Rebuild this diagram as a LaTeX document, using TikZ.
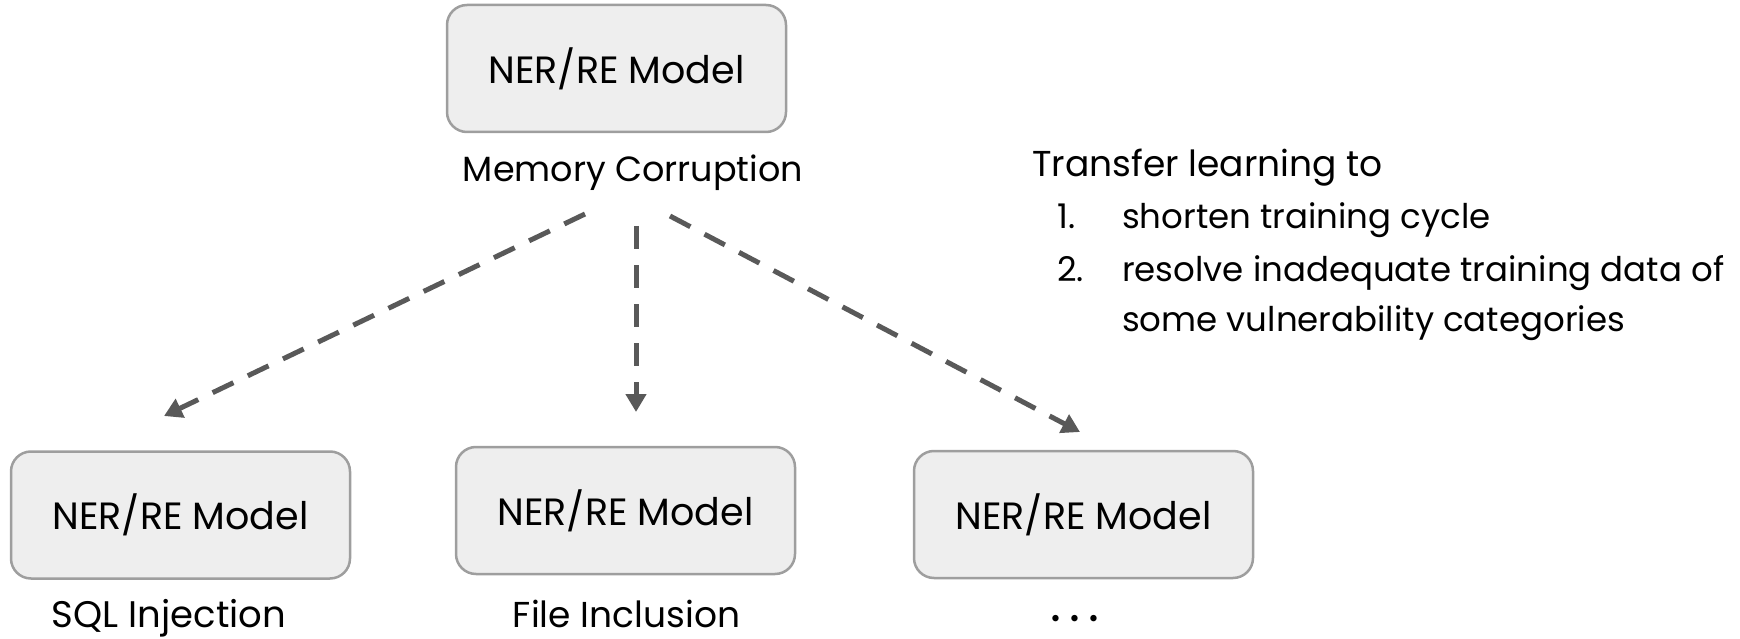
\documentclass[tikz,border=0pt]{standalone}
\usepackage{fontspec}
\setmainfont{Poppins}
\usetikzlibrary{arrows.meta}
\definecolor{boxfill}{HTML}{EEEEEE}
\definecolor{boxline}{HTML}{9E9E9E}
\definecolor{arrowgray}{HTML}{595959}
\tikzset{
  model/.style={draw=boxline, line width=2.5pt, fill=boxfill, rounded corners=20pt,
    minimum width=339pt, minimum height=127pt, inner sep=0pt,
    font=\fontsize{38}{46}\selectfont},
  caption/.style={anchor=base, inner sep=0pt, font=\fontsize{36}{44}\selectfont},
  note/.style={anchor=base west, inner sep=0pt, font=\fontsize{34}{42}\selectfont},
  transfer/.style={draw=arrowgray, line width=5pt, dash pattern=on 23pt off 16pt,
    -{Triangle[length=18pt,width=20pt]}},
}
\begin{document}
\begin{tikzpicture}[x=1pt,y=-1pt]
\useasboundingbox (0,0) rectangle (1740,639);

% source model and its category
\node[model] (src) at (616.5,68.5) {NER/RE Model};
\node[caption, font=\fontsize{35}{42}\selectfont] (srccat) at (633,182) {Memory Corruption};

% target models
\node[model] (sql) at (180.5,515) {NER/RE Model};
\node[model] (file) at (625.5,510.5) {NER/RE Model};
\node[model] (more) at (1083.5,514.5) {NER/RE Model};
\node[caption, font=\fontsize{37}{44}\selectfont] (sqlcat) at (169,627) {SQL Injection};
\node[caption] (filecat) at (626.5,627) {File Inclusion};
\node[caption, font=\fontsize{52}{60}\selectfont] (morecat) at (1075,621) {.\hspace{8pt}.\hspace{8pt}.};

% transfer arrows
\coordinate (a1) at (585,214);
\coordinate (b1) at (164,416);
\coordinate (a2) at (636,226);
\coordinate (b2) at (636,412);
\coordinate (a3) at (670,216);
\coordinate (b3) at (1080,432);
\draw[transfer] (a1) -- (b1);
\draw[transfer] (a2) -- (b2);
\draw[transfer] (a3) -- (b3);

% note on transfer learning
\node[note, font=\fontsize{36}{42}\selectfont] (n0) at (1032,177) {Transfer learning to};
\node[note] (n1) at (1057,229) {1.};
\node[note] (t1) at (1122,229) {shorten training cycle};
\node[note] (n2) at (1057,281) {2.};
\node[note] (t2) at (1122,281) {resolve inadequate training data of};
\node[note] (t3) at (1122,331) {some vulnerability categories};
\end{tikzpicture}
\end{document}
